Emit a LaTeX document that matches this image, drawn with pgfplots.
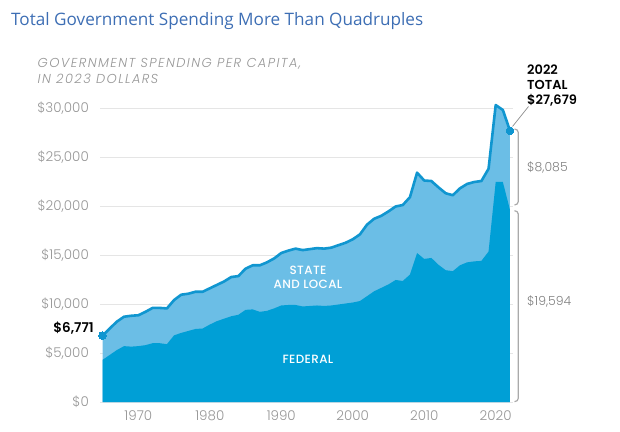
\documentclass[border=0pt]{standalone}
\usepackage{fontspec}
\usepackage{pgfplots}
\usepackage{pgfplotstable}
\pgfplotsset{compat=1.18}
\setmainfont{Poppins}
\newfontfamily\titlefont{Open Sans}
\IfFontExistsTF{Poppins Light Italic}{\newfontfamily\subfont{Poppins Light Italic}[LetterSpace=11]}{\newfontfamily\subfont{Poppins Italic}[LetterSpace=11]}
\IfFontExistsTF{Poppins Medium}{\newfontfamily\medfont{Poppins Medium}[LetterSpace=3]}{\newfontfamily\medfont{Poppins}[FakeBold=0.4,LetterSpace=3]}
\IfFontExistsTF{Poppins SemiBold}{\newfontfamily\sbfont{Poppins SemiBold}}{\newfontfamily\sbfont{Poppins Bold}}
\IfFontExistsTF{Poppins Light}{\newfontfamily\lightfont{Poppins Light}}{\newfontfamily\lightfont{Poppins}}

\definecolor{fedblue}{RGB}{0,159,214}
\definecolor{slblue}{RGB}{107,190,230}
\definecolor{lineblue}{RGB}{16,150,208}
\definecolor{titleblue}{RGB}{61,110,180}
\definecolor{labgray}{RGB}{150,150,150}
\definecolor{brgray}{RGB}{170,170,170}

\pgfplotstableread{
year total
1965 6771
1966 7500
1967 8200
1968 8700
1969 8800
1970 8850
1971 9200
1972 9600
1973 9600
1974 9550
1975 10400
1976 10950
1977 11050
1978 11250
1979 11250
1980 11600
1981 11950
1982 12300
1983 12750
1984 12850
1985 13600
1986 13950
1987 13950
1988 14250
1989 14650
1990 15200
1991 15450
1992 15650
1993 15500
1994 15600
1995 15700
1996 15650
1997 15750
1998 16000
1999 16250
2000 16600
2001 17100
2002 18100
2003 18700
2004 19000
2005 19450
2006 19950
2007 20100
2008 20900
2009 23400
2010 22600
2011 22550
2012 21900
2013 21300
2014 21100
2015 21800
2016 22250
2017 22450
2018 22550
2019 23800
2020 30300
2021 29800
2022 27679
}\totaltable

\pgfplotstableread{
year federal
1965 4300
1966 4800
1967 5300
1968 5700
1969 5650
1970 5700
1971 5800
1972 6000
1973 6000
1974 5900
1975 6800
1976 7050
1977 7250
1978 7450
1979 7500
1980 7900
1981 8250
1982 8500
1983 8750
1984 8900
1985 9400
1986 9450
1987 9200
1988 9300
1989 9550
1990 9850
1991 9900
1992 9900
1993 9750
1994 9800
1995 9850
1996 9800
1997 9850
1998 9950
1999 10050
2000 10150
2001 10300
2002 10800
2003 11300
2004 11650
2005 12000
2006 12450
2007 12350
2008 13000
2009 15200
2010 14600
2011 14700
2012 14000
2013 13450
2014 13350
2015 13950
2016 14250
2017 14350
2018 14400
2019 15350
2020 22450
2021 22450
2022 19594
}\fedtable

\begin{document}
\begin{tikzpicture}
\path[use as bounding box] (0bp,0bp) rectangle (620bp,432bp);

\begin{axis}[
  at={(100bp,30bp)}, anchor=south west,
  scale only axis, width=413bp, height=294bp,
  xmin=1964.64, xmax=2022.42, ymin=0, ymax=30000,
  clip=false,
  axis line style={draw=none},
  major tick length=0pt,
  tick style={draw=none},
  scaled y ticks=false, scaled x ticks=false,
  ymajorgrids, grid style={draw=black!10, line width=0.8bp},
  ytick={0,5000,10000,15000,20000,25000,30000},
  xtick={1970,1980,1990,2000,2010,2020},
  /pgf/number format/assume math mode=true,
  yticklabel={\$\pgfmathprintnumber[fixed,precision=0,1000 sep={,}]{\tick}},
  xticklabel={\pgfmathprintnumber[fixed,precision=0,1000 sep={}]{\tick}},
  yticklabel style={anchor=east, inner sep=0pt, xshift=-11bp, text=labgray, font=\lightfont\fontsize{13.5}{15}\selectfont},
  xticklabel style={anchor=center, inner sep=0pt, yshift=-14bp, text=labgray, font=\lightfont\fontsize{13.5}{15}\selectfont},
]
\addplot[fill=slblue, draw=none] table[x=year,y=total] {\totaltable} \closedcycle;
\addplot[fill=fedblue, draw=none] table[x=year,y=federal] {\fedtable} \closedcycle;
\addplot[draw=lineblue, line width=2.6bp, line join=round, mark=*, mark indices={1,58}, mark size=3.8bp, mark options={fill=lineblue, draw=lineblue, line width=0pt}] table[x=year,y=total] {\totaltable};
\end{axis}

\begin{scope}[x=1bp,y=1bp]
\node[anchor=base west, inner sep=0, text=titleblue, font=\titlefont\fontsize{17.2}{20}\selectfont] at (11,406) {Total Government Spending More Than Quadruples};
\node[anchor=base west, inner sep=0, text=labgray, font=\subfont\fontsize{13}{15}\selectfont] at (37.5,364.2) {GOVERNMENT SPENDING PER CAPITA,};
\node[anchor=base west, inner sep=0, text=labgray, font=\subfont\fontsize{13}{15}\selectfont] at (37.5,348.2) {IN 2023 DOLLARS};

% white area labels
\node[anchor=base, inner sep=0, text=white, font=\medfont\fontsize{12}{14}\selectfont] at (308,158) {STATE};
\node[anchor=base, inner sep=0, text=white, font=\medfont\fontsize{12}{14}\selectfont] at (308,143.5) {AND LOCAL};
\node[anchor=base, inner sep=0, text=white, font=\medfont\fontsize{12}{14}\selectfont] at (308,69) {FEDERAL};

% start label
\node[anchor=base east, inner sep=0, text=black, font=\sbfont\fontsize{13.5}{15}\selectfont] at (94,99.7) {\$6,771};

% end labels
\node[anchor=base west, inner sep=0, text=black, font=\sbfont\fontsize{13}{15}\selectfont] at (527,358) {2022};
\node[anchor=base west, inner sep=0, text=black, font=\sbfont\fontsize{13}{15}\selectfont] at (527,343) {TOTAL};
\node[anchor=base west, inner sep=0, text=black, font=\sbfont\fontsize{13}{15}\selectfont] at (527,327.7) {\$27,679};
\draw[brgray!80!black, line width=0.7bp] (512.5,305.5) -- (528.5,325.5);

% brackets
\draw[brgray, line width=1.2bp] (514.5,303) to[out=0,in=90] (518.3,299.5) -- (518.3,230.5) to[out=-90,in=0] (514.5,227);
\draw[brgray, line width=1.2bp] (514.5,221.3) to[out=0,in=90] (518.3,217.8) -- (518.3,33.8) to[out=-90,in=0] (514.5,30.3);
\node[anchor=base west, inner sep=0, text=labgray!85!black, font=\lightfont\fontsize{12.5}{14}\selectfont] at (527,260.2) {\$8,085};
\node[anchor=base west, inner sep=0, text=labgray!85!black, font=\lightfont\fontsize{12.5}{14}\selectfont] at (527,126.5) {\$19,594};
\end{scope}
\end{tikzpicture}
\end{document}
